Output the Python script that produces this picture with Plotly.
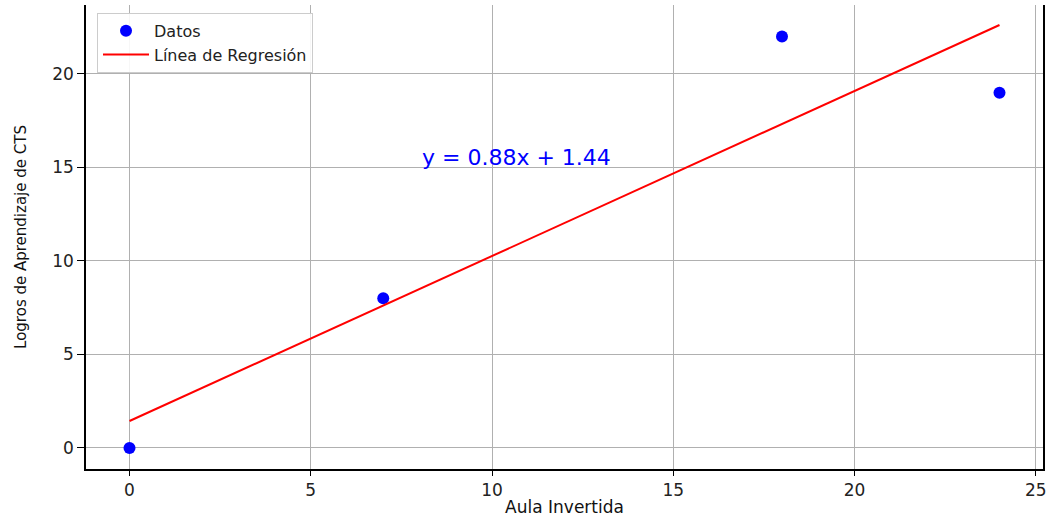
import numpy as np
import plotly.graph_objects as go

# Data
aula_invertida = [0, 7, 18, 24]
logros_cts = [0, 8, 22, 19]
x_ticks = [0, 5, 10, 15, 20, 25]
y_ticks = [0, 5, 10, 15, 20]

slope, intercept = np.polyfit(aula_invertida, logros_cts, 1)
x_line = [min(aula_invertida), max(aula_invertida)]
y_line = [slope * v + intercept for v in x_line]

FONT = "DejaVu Sans"

fig = go.Figure()
fig.add_trace(go.Scatter(
    x=aula_invertida, y=logros_cts, mode="markers", name="Datos",
    marker=dict(color="#0000ff", size=12, line=dict(width=0)),
))
fig.add_trace(go.Scatter(
    x=x_line, y=y_line, mode="lines", name="Línea de Regresión",
    line=dict(color="#ff0000", width=2),
))

fig.add_annotation(
    x=8, y=15, xref="x", yref="y", text=f"y = {slope:.2f}x + {intercept:.2f}",
    showarrow=False, xanchor="left", yanchor="bottom", yshift=-5,
    font=dict(family=FONT, size=22, color="#0000ff"),
)

axis_common = dict(
    showgrid=True, gridcolor="#b0b0b0", gridwidth=1,
    zeroline=False, showline=True, linecolor="#000000", linewidth=1.5,
    ticks="outside", tickcolor="#000000", tickwidth=1.2,
    tickfont=dict(family=FONT, size=17, color="#222222"),
    automargin=False,
)

fig.update_xaxes(
    range=[-1.2, 25.2], tickvals=x_ticks, ticklen=5, mirror=False,
    title=dict(text="Aula Invertida", font=dict(family=FONT, size=17, color="#111111"), standoff=2),
    **axis_common,
)
fig.update_yaxes(
    range=[-1.128, 23.69], tickvals=y_ticks, ticklen=7, mirror=True,
    title=dict(text="Logros de Aprendizaje de CTS", font=dict(family=FONT, size=15, color="#111111"), standoff=22),
    **axis_common,
)

fig.update_layout(
    width=1054, height=518,
    margin=dict(l=86, r=11, t=5, b=49, autoexpand=False),
    plot_bgcolor="white", paper_bgcolor="white",
    showlegend=True,
    legend=dict(
        x=0.0115, y=0.983, xanchor="left", yanchor="top",
        bgcolor="rgba(255,255,255,0.9)", bordercolor="#cccccc", borderwidth=1,
        font=dict(family=FONT, size=16, color="#222222"),
        itemwidth=46, tracegroupgap=0,
    ),
)

fig.write_html(
    "out.html",
    config={"displayModeBar": False},
    post_script="document.body.style.margin='0';document.body.style.overflow='hidden';",
)
